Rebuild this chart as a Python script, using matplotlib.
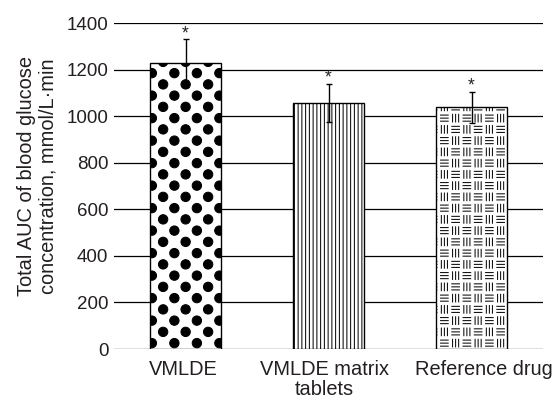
import numpy as np
import matplotlib
matplotlib.use('Agg')
import matplotlib.pyplot as plt
import matplotlib.hatch as mhatch
import matplotlib.transforms as mtransforms
from matplotlib.path import Path

categories = ['VMLDE', 'VMLDE matrix\ntablets', 'Reference drug']
means = [1227, 1056, 1038]
errors = [103, 82, 67]
yticks = [0, 200, 400, 600, 800, 1000, 1200, 1400]
marks = ['*', '*', '*']
hatches = ['o', '||||', '*']

DPI = 90
N_CELL = 8


class DotLattice(mhatch.HatchPatternBase):
    def __init__(self, hatch, density):
        self.active = 'o' in hatch
        circ = Path.unit_circle()
        self.cv = circ.vertices
        self.cc = circ.codes
        self.centers = []
        if self.active:
            for i in range(N_CELL):
                for j in range(N_CELL):
                    if (i + j) % 2 == 0:
                        self.centers.append(((i + 0.5) / N_CELL, (j + 0.5) / N_CELL))
        self.num_vertices = len(self.centers) * len(self.cv)

    def set_vertices_and_codes(self, vertices, codes):
        r = 0.052
        n = len(self.cv)
        for k, (cx, cy) in enumerate(self.centers):
            vertices[k * n:(k + 1) * n] = self.cv * r + np.array([cx, cy])
            codes[k * n:(k + 1) * n] = self.cc


class Basket(mhatch.HatchPatternBase):
    def __init__(self, hatch, density):
        self.active = '*' in hatch
        segs = []
        if self.active:
            c = 1.0 / N_CELL
            half = 0.34 * c
            for i in range(N_CELL):
                for j in range(N_CELL):
                    cx, cy = (i + 0.5) * c, (j + 0.5) * c
                    for k in (-1, 0, 1):
                        off = k * 0.27 * c
                        if (i + j) % 2 == 0:
                            segs.append(((cx - half, cy + off), (cx + half, cy + off)))
                        else:
                            segs.append(((cx + off, cy - half), (cx + off, cy + half)))
        self.segs = segs
        self.num_vertices = 2 * len(segs)

    def set_vertices_and_codes(self, vertices, codes):
        for k, (a, b) in enumerate(self.segs):
            vertices[2 * k] = a
            vertices[2 * k + 1] = b
            codes[2 * k] = Path.MOVETO
            codes[2 * k + 1] = Path.LINETO


mhatch._hatch_types = [t for t in mhatch._hatch_types
                       if t not in (mhatch.SmallCircles, mhatch.Stars)] + [DotLattice, Basket]

plt.rcParams['font.family'] = ['Liberation Sans', 'DejaVu Sans']
plt.rcParams['hatch.linewidth'] = 0.8
TXT = '#231f20'

W, H = 555, 398
fig = plt.figure(figsize=(W / DPI, H / DPI), dpi=DPI)
L, R, T, B = 114, 543, 23, 349
ax = fig.add_axes([L / W, 1 - B / H, (R - L) / W, (B - T) / H])

x = np.arange(len(categories))
ax.bar(x, means, width=0.5, color='white', edgecolor='black', linewidth=1.1,
       hatch=hatches, zorder=3)
ax.errorbar(x, means, yerr=errors, fmt='none', ecolor='black', elinewidth=1.1,
            capsize=2.5, capthick=1.1, zorder=4)
for xi, m, e, s in zip(x, means, errors, marks):
    ax.annotate(s, xy=(xi, m + e), xytext=(0, 1), textcoords='offset points',
                ha='center', va='baseline', fontsize=14, color=TXT)

ax.set_xlim(-0.5, 2.5)
ax.set_ylim(0, 1400)
ax.set_yticks(yticks)
ax.set_xticks(x)
ax.set_xticklabels(categories, fontsize=16, color=TXT, linespacing=1.12)
ax.tick_params(axis='y', length=0, pad=4.5, labelsize=15, labelcolor=TXT)
ax.tick_params(axis='x', length=0, pad=8.5)
ax.yaxis.grid(True, color='black', linewidth=1.0)
ax.set_axisbelow(True)
for sp in ax.spines.values():
    sp.set_visible(False)

# label offsets as in the source figure
shifts_px = [-2, -4, 12]
for lab, dx in zip(ax.get_xticklabels(), shifts_px):
    lab.set_transform(lab.get_transform() +
                      mtransforms.ScaledTranslation(dx / DPI, 0, fig.dpi_scale_trans))

ax.set_ylabel('Total AUC of blood glucose\nconcentration, mmol/L\u00b7min',
              fontsize=16, color=TXT, linespacing=1.2)
ax.yaxis.set_label_coords(-0.131, 0.531)

fig.savefig('out.png', dpi=DPI)
